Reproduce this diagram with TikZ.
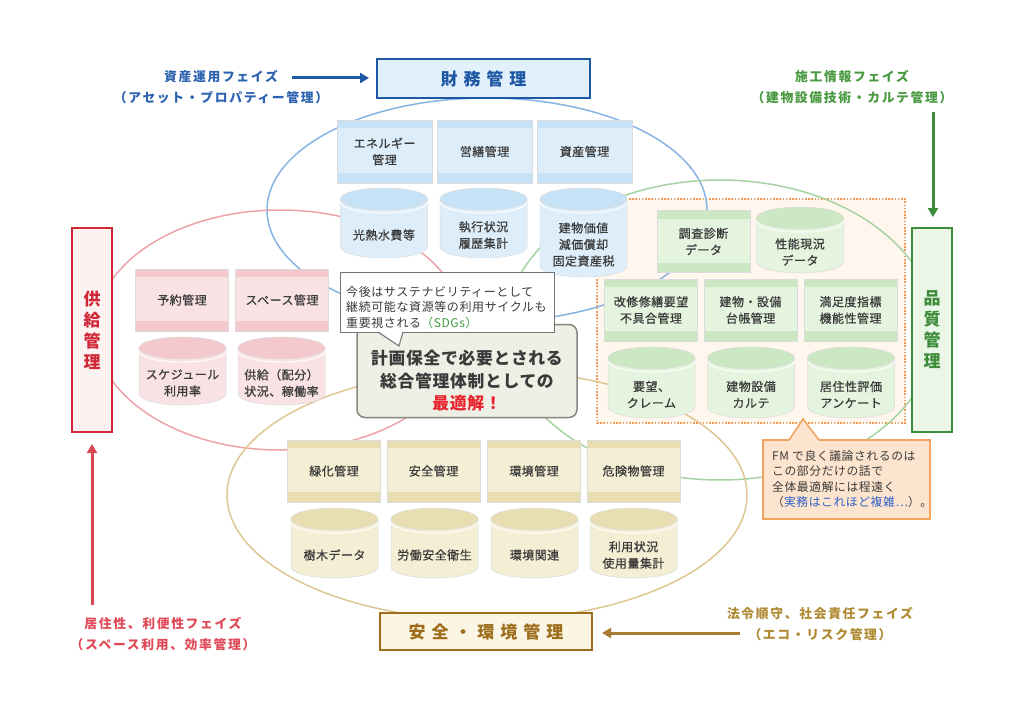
\documentclass[tikz,border=0pt]{standalone}
\usepackage{fontspec}
\setmainfont{Noto Sans CJK JP}
\newfontfamily\trackfont{Noto Sans CJK JP}[LetterSpace=35]
\newfontfamily\phasefont{Noto Sans CJK JP}[LetterSpace=13]
\newfontfamily\smallfont{Noto Sans CJK JP}[LetterSpace=5]
\newfontfamily\tilefont{Noto Sans CJK JP}[LetterSpace=4, FakeBold=0.7]
\newfontfamily\mainfont{Noto Sans CJK JP}[LetterSpace=4]
\usetikzlibrary{arrows.meta}
\definecolor{bdark}{HTML}{1E57A3}
\definecolor{bfill}{HTML}{E2F0FC}
\definecolor{btile}{HTML}{DDEEFA}
\definecolor{bstripe}{HTML}{C6E2F6}
\definecolor{bline}{HTML}{86B5E4}
\definecolor{btext}{HTML}{2C62B0}
\definecolor{rdark}{HTML}{CF2735}
\definecolor{rfill}{HTML}{FDF2F2}
\definecolor{rtile}{HTML}{F9E2E4}
\definecolor{rstripe}{HTML}{F4C9CE}
\definecolor{rline}{HTML}{EDA3A8}
\definecolor{rtext}{HTML}{E04A58}
\definecolor{gdark}{HTML}{3C8C3A}
\definecolor{gfill}{HTML}{EAF6E6}
\definecolor{gtile}{HTML}{E4F4DE}
\definecolor{gstripe}{HTML}{CBE8C2}
\definecolor{gline}{HTML}{A5D4A2}
\definecolor{gtext}{HTML}{4A9A42}
\definecolor{ydark}{HTML}{9E6D1C}
\definecolor{yfill}{HTML}{FBF6E3}
\definecolor{ytile}{HTML}{F4EED4}
\definecolor{ystripe}{HTML}{E8DEB2}
\definecolor{yline}{HTML}{DEC793}
\definecolor{ytext}{HTML}{B08A32}
\definecolor{txtgray}{HTML}{3A3A3A}
\definecolor{dotor}{HTML}{F29A5C}
\definecolor{peach}{HTML}{FFF6EE}
\definecolor{calfill}{HTML}{FDE4CE}
\definecolor{calline}{HTML}{F2A35E}
\definecolor{mainfill}{HTML}{EEF0E5}
\definecolor{mainline}{HTML}{85877F}
\definecolor{hotred}{HTML}{E8232E}
\definecolor{sdg}{HTML}{3E9A3E}
\definecolor{jblue}{HTML}{2F5FC8}

\tikzset{
  tiletext/.style={font=\tilefont\fontsize{12}{16.5}\selectfont, text=txtgray, align=center, inner sep=0pt},
  tile/.style 2 args={rectangle, draw=black!14, line width=0.6pt, fill=#1,
    minimum width=93pt, minimum height=62pt, tiletext,
    path picture={
      \fill[#2] (path picture bounding box.north west) rectangle ([yshift=-8pt]path picture bounding box.north east);
      \fill[#2] (path picture bounding box.south west) rectangle ([yshift=10pt]path picture bounding box.south east);}},
  titlebox/.style={rectangle, line width=2.5pt, inner sep=0pt},
  htitle/.style={font=\trackfont\bfseries\fontsize{17}{21}\selectfont},
  vtitle/.style={align=center, font=\bfseries\fontsize{17}{21}\selectfont},
  phase/.style={align=center, font=\phasefont\bfseries\fontsize{12.8}{21}\selectfont, inner sep=0pt},
  bigarrow/.style={line width=3pt, -{Triangle[length=9pt,width=10pt]}},
  zone/.style={line width=1.5pt},
}

\newcommand\cyl[6]{%
  \pgfmathsetmacro\cyxa{#2-43.5}\pgfmathsetmacro\cyxb{#2+43.5}%
  \pgfmathsetmacro\cyya{#3+11}\pgfmathsetmacro\cyyb{#4-11}\pgfmathsetmacro\cyyr{#3+14}%
  \pgfmathsetmacro\cyyt{(#3+22+#4)/2+1}%
  \filldraw[fill=#5tile, draw=black!14, line width=0.5pt] (\cyxa,\cyya) -- (\cyxa,\cyyb)
     arc[start angle=180,end angle=360,x radius=43.5pt,y radius=11pt] -- (\cyxb,\cyya) -- cycle;
  \filldraw[fill=#5stripe, draw=black!14, line width=0.5pt] (#2,\cyya) ellipse[x radius=43.5pt,y radius=11pt];
  \draw[white, opacity=0.75, line width=1.4pt] (\cyxa,\cyyr)
     arc[start angle=180,end angle=360,x radius=43.5pt,y radius=11pt];
  \node[tiletext] (#1) at (#2,\cyyt) {#6};
}

\begin{document}
\begin{tikzpicture}[x=1pt,y=-1pt]
\useasboundingbox[fill=white] (0,0) rectangle (1024,714);

% dotted quality area
\draw[dotor, fill=peach, line width=1.6pt, dash pattern=on 1.6pt off 1.6pt] (597,199) rectangle (905,423);

% zone ellipses
\draw[zone, bline] (487,210) ellipse[x radius=220pt, y radius=112pt];
\draw[zone, rline] (280,330) ellipse[x radius=185pt, y radius=120pt];
\draw[zone, gline] (720,330) ellipse[x radius=215pt, y radius=150pt];
\draw[zone, yline] (487,495) ellipse[x radius=260pt, y radius=125pt];

% title boxes
\node[titlebox, draw=bdark, fill=bfill, text=bdark, minimum width=213pt, minimum height=39pt, htitle] (fin) at (483.5,78.5) {財務管理};
\node[titlebox, draw=ydark, fill=yfill, text=ydark, minimum width=212pt, minimum height=37pt, htitle] (env) at (486,631.5) {安全・環境管理};
\node[titlebox, draw=gdark, fill=gfill, text=gdark, minimum width=40pt, minimum height=204pt, vtitle] (qual) at (932,330) {品\\質\\管\\理};
\node[titlebox, draw=rdark, fill=rfill, text=rdark, minimum width=40pt, minimum height=204pt, vtitle] (sup) at (92,330) {供\\給\\管\\理};

% blue group
\node[tile={btile}{bstripe}, minimum width=95pt, minimum height=63pt] (b1) at (384.5,151.5) {エネルギー\\管理};
\node[tile={btile}{bstripe}, minimum width=95pt, minimum height=63pt] (b2) at (484.5,151.5) {営繕管理};
\node[tile={btile}{bstripe}, minimum width=95pt, minimum height=63pt] (b3) at (584.5,151.5) {資産管理};
\cyl{bc1}{384}{188}{258}{b}{光熱水費等}
\cyl{bc2}{483.5}{188}{258}{b}{執行状況\\履歴集計}
\cyl{bc3}{583.5}{188}{277}{b}{建物価値\\減価償却\\固定資産税}

% red group
\node[tile={rtile}{rstripe}] (r1) at (182,300) {予約管理};
\node[tile={rtile}{rstripe}] (r2) at (282,300) {スペース管理};
\cyl{rc1}{182.5}{337}{405}{r}{スケジュール\\利用率}
\cyl{rc2}{281.5}{337}{405}{r}{供給（配分）\\状況、稼働率}

% green group
\node[tile={gtile}{gstripe}] (g1) at (703.5,241.5) {調査診断\\データ};
\cyl{gc1}{800}{207}{273}{g}{性能現況\\データ}
\node[tile={gtile}{gstripe}] (g2) at (651,310) {改修修繕要望\\不具合管理};
\node[tile={gtile}{gstripe}] (g3) at (750.5,310) {建物・設備\\台帳管理};
\node[tile={gtile}{gstripe}] (g4) at (850.5,310) {満足度指標\\機能性管理};
\cyl{gc2}{651.5}{347}{418}{g}{要望、\\クレーム}
\cyl{gc3}{751}{347}{418}{g}{建物設備\\カルテ}
\cyl{gc4}{851}{347}{418}{g}{居住性評価\\アンケート}

% brown group
\node[tile={ytile}{ystripe}] (y1) at (334,471) {緑化管理};
\node[tile={ytile}{ystripe}] (y2) at (433.5,471) {安全管理};
\node[tile={ytile}{ystripe}] (y3) at (534,471) {環境管理};
\node[tile={ytile}{ystripe}] (y4) at (633.5,471) {危険物管理};
\cyl{yc1}{334.5}{508}{578}{y}{樹木データ}
\cyl{yc2}{434.5}{508}{578}{y}{労働安全衛生}
\cyl{yc3}{534.5}{508}{578}{y}{環境関連}
\cyl{yc4}{633.5}{508}{578}{y}{利用状況\\使用量集計}

% central callout
\node[rectangle, rounded corners=8pt, draw=mainline, fill=mainfill, line width=1.5pt,
      minimum width=220pt, minimum height=93pt] (main) at (467,371) {};
\node[align=center, text=txtgray, font=\mainfont\bfseries\fontsize{16.8}{22.5}\selectfont, inner sep=0pt] (maintext) at (467,381)
  {計画保全で必要とされる\\総合管理体制としての\\{\color{hotred}最適解！}};

% speech bubble
\node[rectangle, draw=black!55, fill=white, line width=1pt, minimum width=214pt, minimum height=60pt] (bub) at (447,302) {};
\fill[white] (378,331) -- (399,346) -- (403,331) -- cycle;
\draw[black!55, line width=1pt] (378,332) -- (399,346) -- (403,332);
\node[anchor=west, align=left, text=txtgray, font=\smallfont\fontsize{12}{15.7}\selectfont, inner sep=0pt] (bubtext) at (346,307.5)
  {今後はサステナビリティーとして\\継続可能な資源等の利用サイクルも\\重要視される{\color{sdg}（SDGs）}};

% orange callout
\node[rectangle, draw=calline, fill=calfill, line width=1.5pt, minimum width=167pt, minimum height=79pt] (fmnote) at (846.5,479.5) {};
\fill[calfill] (789,441) -- (803,419) -- (819,441) -- cycle;
\draw[calline, line width=1.5pt, line join=miter] (789,440) -- (803,419) -- (819,440);
\node[anchor=west, align=left, text=txtgray, font=\smallfont\fontsize{11.8}{15.6}\selectfont, inner sep=0pt] (fmtext) at (772,479)
  {FM で良く議論されるのは\\この部分だけの話で\\全体最適解には程遠く\\（{\color{jblue}実務はこれほど複雑…}）。};

% phase labels
\node[phase, text=btext] (ph1) at (221,87) {資産運用フェイズ\\（アセット・プロパティー管理）};
\node[phase, text=gtext] (ph2) at (852,87) {施工情報フェイズ\\（建物設備技術・カルテ管理）};
\node[phase, text=rtext] (ph3) at (163,634) {居住性、利便性フェイズ\\（スペース利用、効率管理）};
\node[phase, text=ytext] (ph4) at (820,624) {法令順守、社会責任フェイズ\\（エコ・リスク管理）};

% arrows
\coordinate (a1s) at (292,78);
\coordinate (a1e) at (369,78);
\draw[bigarrow, bdark] (a1s) -- (a1e);
\coordinate (a2s) at (933,112);
\coordinate (a2e) at (933,217);
\draw[bigarrow, gdark] (a2s) -- (a2e);
\coordinate (a3s) at (92,605);
\coordinate (a3e) at (92,444);
\draw[bigarrow, rdark!85!white] (a3s) -- (a3e);
\coordinate (a4s) at (740,633);
\coordinate (a4e) at (602,633);
\draw[bigarrow, ydark!90!white] (a4s) -- (a4e);
\end{tikzpicture}
\end{document}
